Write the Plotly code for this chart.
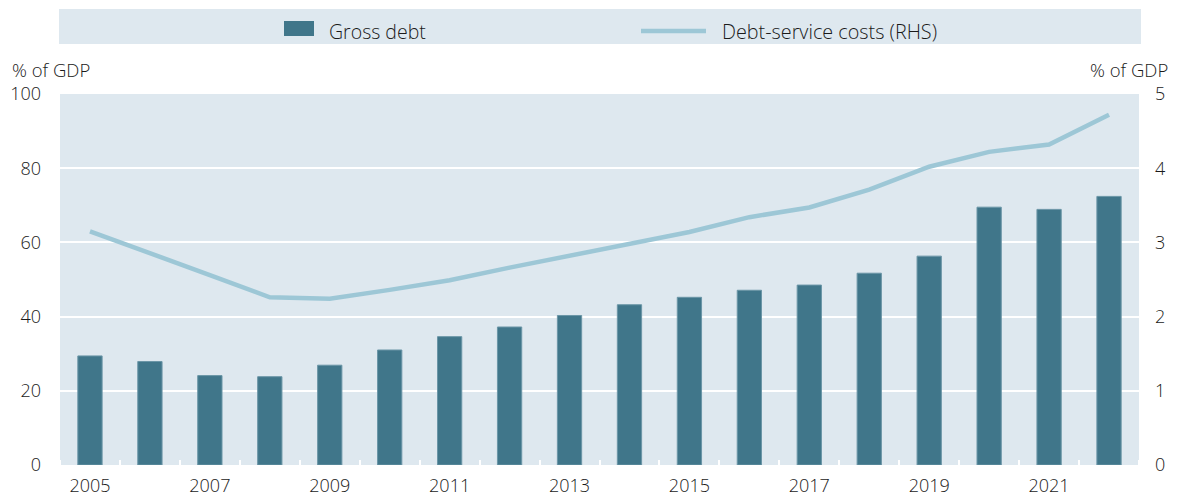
import plotly.graph_objects as go

# Gross debt and debt-service costs, % of GDP
years = list(range(2005, 2023))
gross_debt = [29.4, 27.9, 24.1, 23.8, 26.9, 31.0, 34.6, 37.2, 40.3, 43.2,
              45.2, 47.1, 48.5, 51.7, 56.3, 69.5, 68.9, 72.4]
debt_service = [3.15, 2.86, 2.56, 2.26, 2.24, 2.36, 2.49, 2.66, 2.82, 2.99,
                3.14, 3.34, 3.47, 3.71, 4.02, 4.22, 4.32, 4.72]
x_tick_years = [2005, 2007, 2009, 2011, 2013, 2015, 2017, 2019, 2021]
left_ticks = [0, 20, 40, 60, 80, 100]
right_ticks = [0, 1, 2, 3, 4, 5]

W, H = 1178, 499
ML, MR, MT, MB = 60, 39, 94, 34
PW, PH = W - ML - MR, H - MT - MB

BAR = "#40768a"
LINE = "#9dc7d6"
BG = "#dee8ef"
TXT = "#1a1a1a"
FONT = "Open Sans, Noto Sans, sans-serif"
WEIGHT = 300


def px_x(x):
    return (x - ML) / PW


def px_y(y):
    return (H - MB - y) / PH


def tfont(size):
    return dict(size=size, color=TXT, family=FONT, weight=WEIGHT)


fig = go.Figure()
fig.add_trace(go.Bar(
    x=years, y=gross_debt, name="Gross debt",
    marker=dict(color=BAR, line=dict(color="#6b96a7", width=1)),
    yaxis="y",
))
fig.add_trace(go.Scatter(
    x=years, y=debt_service, name="Debt-service costs (RHS)",
    mode="lines", line=dict(color=LINE, width=4.5),
    yaxis="y2",
))

# Legend band drawn above the plot
shapes = [
    dict(type="rect", xref="paper", yref="paper", layer="below",
         x0=px_x(59), x1=px_x(1141), y0=px_y(44), y1=px_y(9),
         fillcolor=BG, line=dict(width=0)),
    dict(type="rect", xref="paper", yref="paper",
         x0=px_x(284), x1=px_x(314), y0=px_y(36), y1=px_y(21),
         fillcolor=BAR, line=dict(width=0)),
    dict(type="line", xref="paper", yref="paper",
         x0=px_x(641), x1=px_x(706), y0=px_y(31), y1=px_y(31),
         line=dict(color=LINE, width=4.5)),
]
annotations = [
    dict(text="Gross debt", xref="paper", yref="paper", x=px_x(327), y=px_y(31),
         xanchor="left", yanchor="middle", showarrow=False, font=tfont(19.5)),
    dict(text="Debt-service costs (RHS)", xref="paper", yref="paper",
         x=px_x(720), y=px_y(31), xanchor="left", yanchor="middle",
         showarrow=False, font=tfont(19.8)),
    dict(text="% of GDP", xref="paper", yref="paper", x=px_x(10), y=px_y(69),
         xanchor="left", yanchor="middle", showarrow=False, font=tfont(18.5)),
    dict(text="% of GDP", xref="paper", yref="paper", x=px_x(1170), y=px_y(69),
         xanchor="right", yanchor="middle", showarrow=False, font=tfont(18.5)),
]

fig.update_layout(
    width=W, height=H,
    margin=dict(l=ML, r=MR, t=MT, b=MB, pad=0, autoexpand=False),
    paper_bgcolor="white", plot_bgcolor=BG,
    font=tfont(18),
    showlegend=False,
    bargap=0.595,
    shapes=shapes, annotations=annotations,
    xaxis=dict(
        range=[2004.5, 2022.5], tickvals=x_tick_years,
        ticktext=[str(y) for y in x_tick_years],
        ticks="", showgrid=False, zeroline=False, showline=False,
        ticklabelstandoff=8, automargin=False,
        minor=dict(tick0=2004.5, dtick=1, ticks="inside", ticklen=5,
                   tickwidth=2, tickcolor="white", showgrid=False),
        tickfont=tfont(18),
    ),
    yaxis=dict(
        range=[0, 100], tickvals=left_ticks, showgrid=True,
        gridcolor="white", gridwidth=2, zeroline=False, showline=False,
        ticks="", ticklabelstandoff=18, tickfont=tfont(18), automargin=False,
    ),
    yaxis2=dict(
        range=[0, 5], tickvals=right_ticks, overlaying="y", side="right",
        showgrid=False, zeroline=False, showline=False, ticks="",
        ticklabelstandoff=15, tickfont=tfont(18), automargin=False,
    ),
)

fig.write_html("out.html")
